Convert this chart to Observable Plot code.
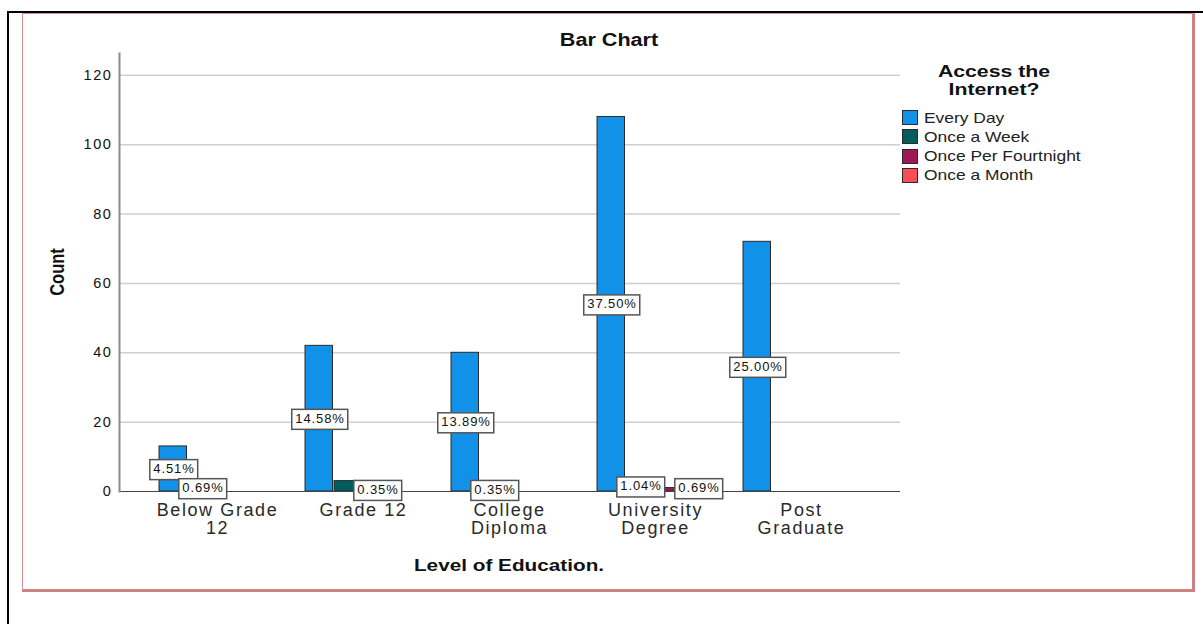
<!DOCTYPE html>
<html>
<head>
<meta charset="utf-8">
<script src="https://cdn.jsdelivr.net/npm/d3@7"></script>
<script src="https://cdn.jsdelivr.net/npm/@observablehq/plot@0.6"></script>
<style>
html, body { margin: 0; padding: 0; background: #fff; }
#wrap { position: relative; width: 1203px; height: 624px; overflow: hidden; font-family: "Liberation Sans", Arial, sans-serif; color: #111; }
#blackframe { position: absolute; left: 7px; top: 11px; width: 1400px; height: 800px; border-left: 2px solid #000; border-top: 2px solid #000; }
#pinkframe { position: absolute; left: 22px; top: 13px; width: 1169px; height: 575px; border: 1px solid #d99090; border-right: 3px solid #cf8080; border-bottom: 3px solid #cf8080; }
#wrap svg { position: absolute; left: 0; top: 0; }
.htxt { position: absolute; white-space: nowrap; }
#title { left: 609px; top: 40px; font-weight: bold; font-size: 18px; transform: translate(-50%, -50%) scaleX(1.2); }
#ytitle { left: 57px; top: 272px; font-weight: bold; font-size: 16.5px; transform: translate(-50%, -50%) rotate(-90deg) scaleY(1.2); }
#xtitle { left: 509px; top: 566px; font-weight: bold; font-size: 17px; transform: translate(-50%, -50%) scaleX(1.22); }
#legend { position: absolute; left: 902px; top: 63px; width: 184px; }
#legtitle { text-align: center; font-weight: bold; font-size: 17px; line-height: 18px; transform: scaleX(1.25); }
#legitems { margin-top: 10px; }
.legrow { position: relative; height: 19.3px; }
.legsw { position: absolute; left: 0; top: 1px; width: 16px; height: 15px; border: 1px solid #2b2b2b; box-sizing: border-box; }
.leglab { position: absolute; left: 22px; top: -0.5px; font-size: 14.5px; line-height: 18px; color: #222; transform: scaleX(1.2); transform-origin: left center; }
svg [aria-label^="y-axis"] text { letter-spacing: 1.6px; }
svg g[aria-description="value-label"] text { letter-spacing: 0.9px; }
svg g[aria-description="x-tick-label"] text { letter-spacing: 1.6px; }
</style>
</head>
<body>
<div id="wrap">
  <div id="blackframe"></div>
  <div id="pinkframe"></div>
  <div id="title" class="htxt">Bar Chart</div>
  <div id="ytitle" class="htxt">Count</div>
  <div id="xtitle" class="htxt">Level of Education.</div>
  <div id="legend">
    <div id="legtitle">Access the<br>Internet?</div>
    <div id="legitems"></div>
  </div>
</div>
<script>
const categories = ["Below Grade 12", "Grade 12", "College Diploma", "University Degree", "Post Graduate"];
const tickLabels = ["Below Grade\n12", "Grade 12", "College\nDiploma", "University\nDegree", "Post\nGraduate"];
const series = ["Every Day", "Once a Week", "Once Per Fourtnight", "Once a Month"];
const seriesColors = ["#1192e8", "#005d5d", "#9f1853", "#fa4d56"];
const everyDay = [13, 42, 40, 108, 72];
const onceAWeek = [2, 3, 1, 3, 0];
const oncePerFortnight = [0, 1, 0, 1, 0];
const onceAMonth = [0, 0, 0, 2, 0];
const yTicks = [0, 20, 40, 60, 80, 100, 120];
const hiddenLabels = [["Grade 12", "Once a Week"], ["University Degree", "Once Per Fourtnight"]];

const seriesValues = [everyDay, onceAWeek, oncePerFortnight, onceAMonth];
const total = d3.sum(seriesValues.flat());
const rows = [];
series.forEach((s, i) => categories.forEach((c, j) => rows.push({category: c, series: s, index: i, value: seriesValues[i][j]})));
const isHidden = r => hiddenLabels.some(([c, s]) => c === r.category && s === r.series);

const slot = 29;
const marks = [Plot.ruleY(yTicks.filter(t => t > 0), {stroke: "#cfcfcf", strokeWidth: 1.5})];
series.forEach((s, i) => {
  const data = rows.filter(r => r.series === s && r.value > 0);
  marks.push(Plot.barY(data, {
    x: "category", y: "value", fill: "series", stroke: "#2b2b2b", strokeWidth: 1,
    insetLeft: i * slot, insetRight: (3 - i) * slot + 1.5
  }));
});
marks.push(Plot.ruleY([0], {stroke: "#444", strokeWidth: 1.2}));
marks.push(Plot.frame({anchor: "left", stroke: "#8c8c8c", strokeWidth: 2}));
series.forEach((s, i) => {
  const data = rows.filter(r => r.series === s && r.value > 0 && !isHidden(r));
  marks.push(Plot.text(data, {
    x: "category", y: d => d.value / 2,
    text: d => (d.value / total * 100).toFixed(2) + "%",
    dx: (i - 1.5) * slot, fontSize: 13, fill: "#111",
    ariaDescription: "value-label"
  }));
});
marks.push(Plot.text(categories, {
  x: d => d, text: (d, i) => tickLabels[i], frameAnchor: "bottom", lineAnchor: "top",
  dy: 12, fontSize: 18, lineHeight: 0.98, fill: "#2a2a2a", ariaDescription: "x-tick-label"
}));

const svg = Plot.plot({
  width: 1203, height: 624,
  marginLeft: 119, marginRight: 303, marginTop: 53, marginBottom: 133,
  style: {background: "transparent", fontFamily: "'Liberation Sans', Arial, sans-serif", fontSize: "14.5px", color: "#111", overflow: "visible"},
  x: {domain: categories, paddingInner: 0.204, paddingOuter: 0.27, axis: null},
  y: {domain: [0, 126.3], ticks: yTicks, tickSize: 0, tickPadding: 7, label: null},
  color: {domain: series, range: seriesColors},
  marks
});
document.getElementById("wrap").appendChild(svg);

svg.querySelectorAll('g[aria-description="value-label"] text').forEach(t => {
  const b = t.getBBox();
  const r = document.createElementNS("http://www.w3.org/2000/svg", "rect");
  r.setAttribute("x", b.x - 3.5);
  r.setAttribute("y", b.y - 1.5);
  r.setAttribute("width", b.width + 6.5);
  r.setAttribute("height", b.height + 5);
  if (t.getAttribute("transform")) r.setAttribute("transform", t.getAttribute("transform"));
  r.setAttribute("fill", "#fff");
  r.setAttribute("stroke", "#555");
  r.setAttribute("stroke-width", 1.5);
  t.parentNode.insertBefore(r, t);
});

const items = document.getElementById("legitems");
series.forEach((s, i) => {
  const row = document.createElement("div");
  row.className = "legrow";
  const sw = document.createElement("div");
  sw.className = "legsw";
  sw.style.background = seriesColors[i];
  const lab = document.createElement("div");
  lab.className = "leglab";
  lab.textContent = s;
  row.appendChild(sw); row.appendChild(lab);
  items.appendChild(row);
});
</script>
</body>
</html>
